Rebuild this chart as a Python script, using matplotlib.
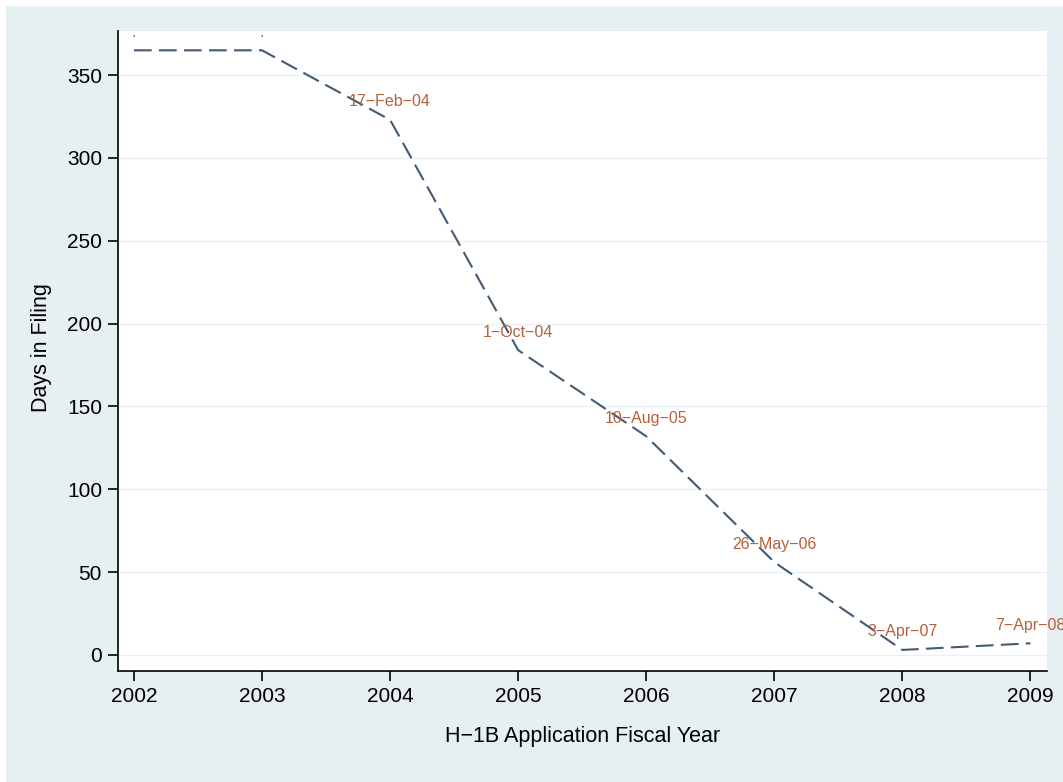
"""
H-1B cap: days in filing by fiscal year
"""

import matplotlib.pyplot as plt
from matplotlib.patches import Rectangle

plt.rcParams["font.family"] = ["Liberation Sans", "DejaVu Sans"]

# данные
fiscal_years = [2002, 2003, 2004, 2005, 2006, 2007, 2008, 2009]
days_in_filing = [365, 365, 323, 184, 132, 56, 3, 7]
cap_dates = [".", ".", "17\u2212Feb\u221204", "1\u2212Oct\u221204", "10\u2212Aug\u221205",
             "26\u2212May\u221206", "3\u2212Apr\u221207", "7\u2212Apr\u221208"]
y_ticks = [0, 50, 100, 150, 200, 250, 300, 350]

fig = plt.figure(figsize=(10.63, 7.82), dpi=100, facecolor="white")
# фон графика в стиле Stata
fig.patches.append(Rectangle((6 / 1063, 0), 1 - 6 / 1063, 1 - 6 / 782,
                             transform=fig.transFigure, facecolor="#e6eff1",
                             edgecolor="none", zorder=-10))

ax = fig.add_axes([0.111, 0.142, 0.874, 0.818])
ax.set_facecolor("white")

ax.plot(fiscal_years, days_in_filing, color="#435a73", linewidth=1.5,
        linestyle=(0, (8.5, 3.5)), zorder=3)

# подписи с датами достижения лимита
for x, y, lab in zip(fiscal_years, days_in_filing, cap_dates):
    ax.annotate(lab, (x, y), xytext=(0, 13), textcoords="offset points",
                ha="center", va="center", fontsize=11.5, color="#b5603e",
                zorder=4, annotation_clip=False)

ax.set_xlim(2001.875, 2009.13)
ax.set_ylim(-9.7, 376.5)
ax.set_xticks(fiscal_years)
ax.set_yticks(y_ticks)
ax.grid(axis="y", color="#e9f1f5", linewidth=1.0, zorder=0)
ax.set_axisbelow(True)

for side in ["top", "right"]:
    ax.spines[side].set_visible(False)
for side in ["left", "bottom"]:
    ax.spines[side].set_color("black")
    ax.spines[side].set_linewidth(1.2)

ax.tick_params(axis="both", direction="out", length=7.5, width=1.2,
               pad=4, labelsize=15, colors="black")

ax.set_xlabel("H\u22121B Application Fiscal Year", fontsize=15.5, va="center")
ax.set_ylabel("Days in Filing", fontsize=15.5, va="center")
ax.xaxis.set_label_coords(0.5, -0.103)
ax.yaxis.set_label_coords(-0.082, 0.505)

plt.savefig("out.png", dpi=100)
plt.close()
